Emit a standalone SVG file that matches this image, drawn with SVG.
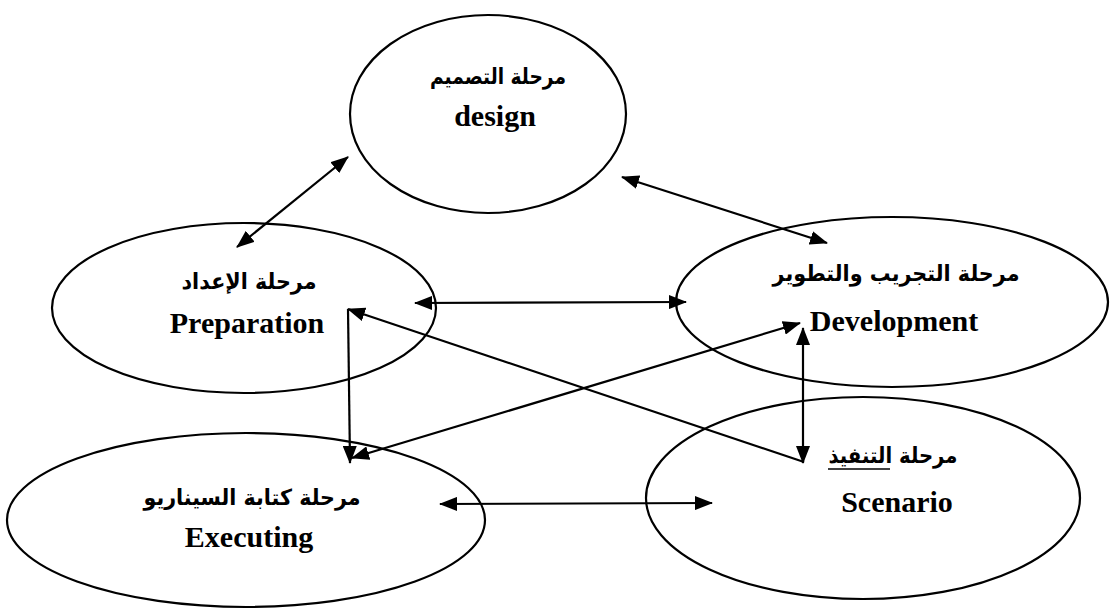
<svg xmlns="http://www.w3.org/2000/svg" width="1113" height="611" viewBox="0 0 1113 611">
<style>
.node ellipse{fill:none;stroke:#000;stroke-width:2.2}
.ar{font-family:"DejaVu Sans","Noto Sans",sans-serif;font-weight:bold;font-size:22px;text-anchor:middle;fill:#000}
.en{font-family:"Liberation Serif","Times New Roman",serif;font-weight:bold;font-size:30px;text-anchor:middle;fill:#000}
#connectors line{stroke:#000;stroke-width:2.2;fill:none}
</style>
<defs>
<marker id="ah" viewBox="0 0 18 14" refX="17" refY="7" markerWidth="18" markerHeight="14" markerUnits="userSpaceOnUse" orient="auto-start-reverse">
<path d="M0,0 L18,7 L0,14 Z" fill="#000"/>
</marker>
</defs>
<rect width="1113" height="611" fill="#fff"/>
<g id="design" class="node">
<ellipse cx="488" cy="114" rx="138" ry="99"/>
<text class="ar" x="498" y="84" direction="rtl" textLength="136" lengthAdjust="spacingAndGlyphs">مرحلة التصميم</text>
<text class="en" x="495" y="126">design</text>
</g>
<g id="preparation" class="node">
<ellipse cx="244" cy="308" rx="192" ry="85"/>
<text class="ar" x="249" y="289" direction="rtl" textLength="135" lengthAdjust="spacingAndGlyphs">مرحلة الإعداد</text>
<text class="en" x="247" y="333">Preparation</text>
</g>
<g id="development" class="node">
<ellipse cx="892" cy="302" rx="216" ry="85"/>
<text class="ar" x="896" y="281" direction="rtl" textLength="247" lengthAdjust="spacingAndGlyphs">مرحلة التجريب والتطوير</text>
<text class="en" x="894" y="331">Development</text>
</g>
<g id="executing" class="node">
<ellipse cx="246" cy="520" rx="239" ry="87"/>
<text class="ar" x="252" y="505" direction="rtl" textLength="217" lengthAdjust="spacingAndGlyphs">مرحلة كتابة السيناريو</text>
<text class="en" x="249" y="547">Executing</text>
</g>
<g id="scenario" class="node">
<ellipse cx="863" cy="498" rx="217" ry="101"/>
<text class="ar" x="893" y="463" direction="rtl" textLength="129" lengthAdjust="spacingAndGlyphs">مرحلة التنفيذ</text>
<line x1="828" y1="469" x2="890" y2="469" stroke="#000" stroke-width="1.5"/>
<text class="en" x="897" y="512">Scenario</text>
</g>
<g id="connectors">
<line x1="237" y1="247" x2="348" y2="157" marker-start="url(#ah)" marker-end="url(#ah)"/>
<line x1="622" y1="177" x2="827" y2="243" marker-start="url(#ah)" marker-end="url(#ah)"/>
<line x1="415" y1="303" x2="686" y2="302" marker-start="url(#ah)" marker-end="url(#ah)"/>
<line x1="348" y1="309" x2="350" y2="463" marker-end="url(#ah)"/>
<line x1="804" y1="462" x2="348" y2="309" marker-end="url(#ah)"/>
<line x1="803" y1="328" x2="803" y2="463" marker-start="url(#ah)" marker-end="url(#ah)"/>
<line x1="352" y1="458" x2="800" y2="323" marker-start="url(#ah)" marker-end="url(#ah)"/>
<line x1="440" y1="504" x2="712" y2="503" marker-start="url(#ah)" marker-end="url(#ah)"/>
</g>
</svg>
